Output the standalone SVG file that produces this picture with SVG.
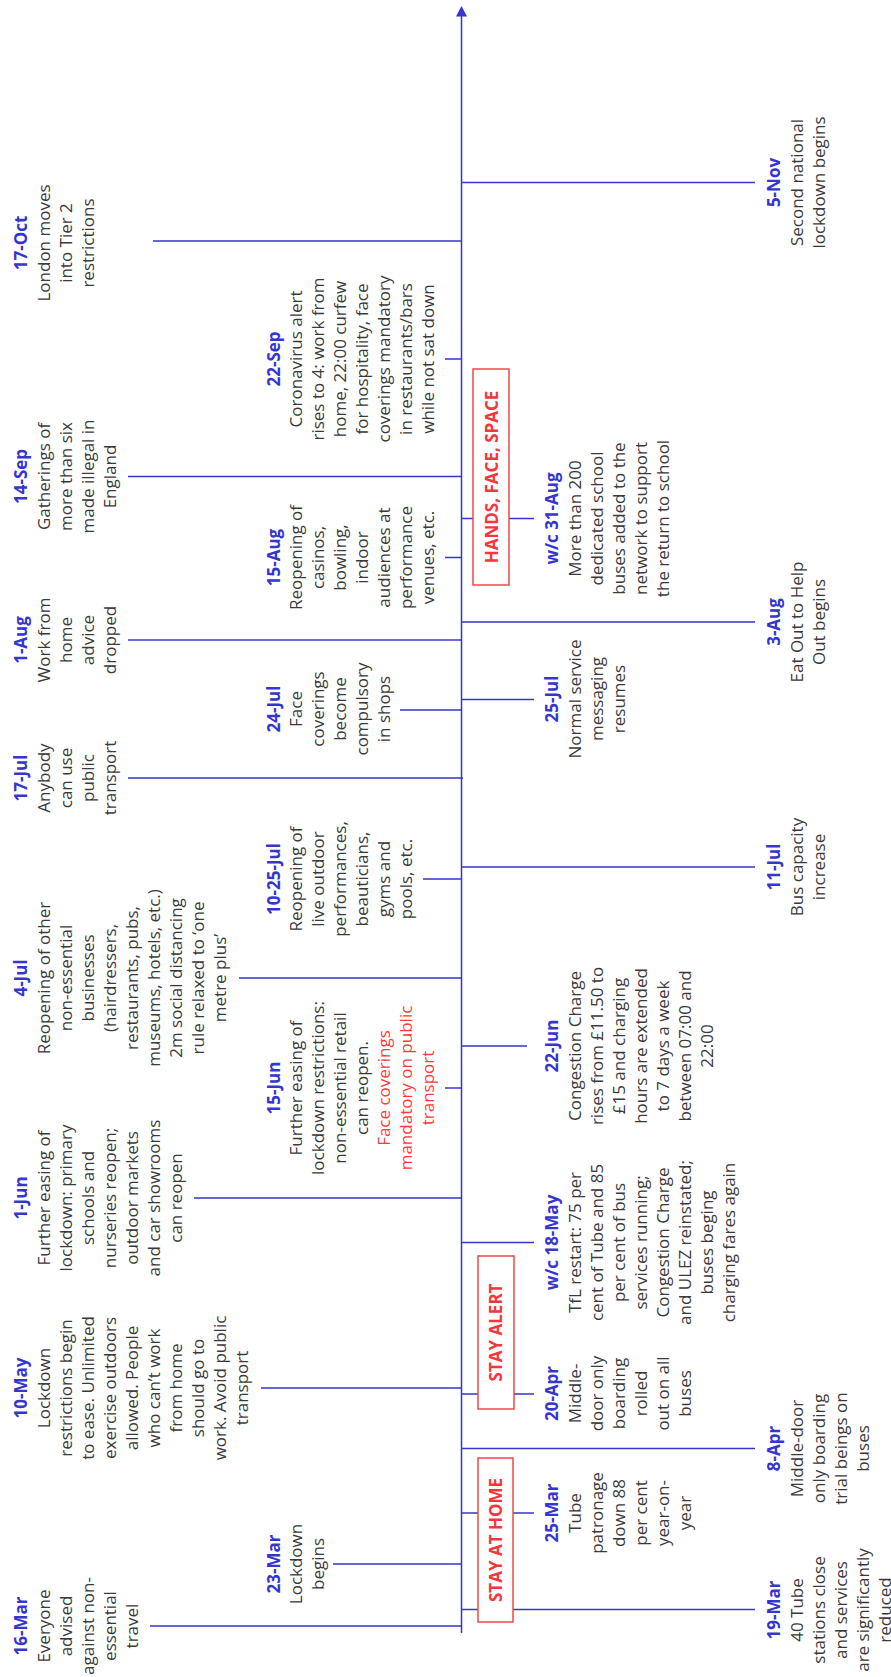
<svg xmlns="http://www.w3.org/2000/svg" width="891" height="1677" viewBox="0 0 891 1677">
<style>
.t{font-family:"Open Sans","Liberation Sans",sans-serif;font-size:17px;fill:#3a3a3a;text-anchor:middle}
.d{font-weight:bold;fill:#3535cf}
.r{fill:#ff3a3a}
.box{fill:#fff;stroke:#f5464b;stroke-width:1.5}
.bt{font-family:"Open Sans","Liberation Sans",sans-serif;font-weight:bold;font-size:17px;fill:#f5363c;text-anchor:middle}
.ln{stroke:#3535cf;stroke-width:1.5;fill:none}
</style>
<rect width="891" height="1677" fill="#fff"/>
<g id="connectors">
<line class="ln" x1="461.5" y1="14" x2="461.5" y2="1633" stroke-width="1.8"/>
<polygon points="461.5,6 456,16.5 467,16.5" fill="#3535cf"/>
<line class="ln" x1="153" y1="241" x2="461.5" y2="241"/>
<line class="ln" x1="128" y1="476.5" x2="461.5" y2="476.5"/>
<line class="ln" x1="128" y1="640" x2="461.5" y2="640"/>
<line class="ln" x1="128" y1="778" x2="463" y2="778"/>
<line class="ln" x1="239" y1="978" x2="461.5" y2="978"/>
<line class="ln" x1="194" y1="1198" x2="461.5" y2="1198"/>
<line class="ln" x1="261" y1="1388" x2="461.5" y2="1388"/>
<line class="ln" x1="333" y1="1564" x2="461.5" y2="1564"/>
<line class="ln" x1="150" y1="1626" x2="461.5" y2="1626"/>
<line class="ln" x1="445" y1="359" x2="461.5" y2="359"/>
<line class="ln" x1="445" y1="557.5" x2="461.5" y2="557.5"/>
<line class="ln" x1="400" y1="710" x2="461.5" y2="710"/>
<line class="ln" x1="423" y1="879" x2="461.5" y2="879"/>
<line class="ln" x1="445" y1="1088" x2="461.5" y2="1088"/>
<line class="ln" x1="461.5" y1="518.5" x2="534" y2="518.5"/>
<line class="ln" x1="461.5" y1="699.5" x2="534" y2="699.5"/>
<line class="ln" x1="461.5" y1="1046" x2="527" y2="1046"/>
<line class="ln" x1="461.5" y1="1242.5" x2="534" y2="1242.5"/>
<line class="ln" x1="461.5" y1="1394" x2="534" y2="1394"/>
<line class="ln" x1="461.5" y1="1513" x2="534" y2="1513"/>
<line class="ln" x1="461.5" y1="182.5" x2="755" y2="182.5"/>
<line class="ln" x1="461.5" y1="622" x2="755" y2="622"/>
<line class="ln" x1="461.5" y1="867" x2="755" y2="867"/>
<line class="ln" x1="461.5" y1="1448.5" x2="755" y2="1448.5"/>
<line class="ln" x1="461.5" y1="1609.5" x2="755" y2="1609.5"/>
</g>
<g id="phase-hands"><rect class="box" x="473" y="369" width="36" height="216"/><text class="bt" transform="translate(497.5,477) rotate(-90)">HANDS, FACE, SPACE</text></g>
<g id="phase-alert"><rect class="box" x="478" y="1256" width="36" height="153"/><text class="bt" transform="translate(502,1332.5) rotate(-90)">STAY ALERT</text></g>
<g id="phase-home"><rect class="box" x="478" y="1458" width="35" height="164"/><text class="bt" transform="translate(502,1540) rotate(-90)">STAY AT HOME</text></g>

<g id="e-17oct"><text class="t" transform="translate(27,243) rotate(-90)"><tspan class="d" x="0" y="0">17-Oct</tspan><tspan x="0" dy="23">London moves</tspan><tspan x="0" dy="22">into Tier 2</tspan><tspan x="0" dy="22">restrictions</tspan></text></g>
<g id="e-14sep"><text class="t" transform="translate(27,476.5) rotate(-90)"><tspan class="d" x="0" y="0">14-Sep</tspan><tspan x="0" dy="23">Gatherings of</tspan><tspan x="0" dy="22">more than six</tspan><tspan x="0" dy="22">made illegal in</tspan><tspan x="0" dy="22">England</tspan></text></g>
<g id="e-1aug"><text class="t" transform="translate(27,640) rotate(-90)"><tspan class="d" x="0" y="0">1-Aug</tspan><tspan x="0" dy="23">Work from</tspan><tspan x="0" dy="22">home</tspan><tspan x="0" dy="22">advice</tspan><tspan x="0" dy="22">dropped</tspan></text></g>
<g id="e-17jul"><text class="t" transform="translate(27,778) rotate(-90)"><tspan class="d" x="0" y="0">17-Jul</tspan><tspan x="0" dy="23">Anybody</tspan><tspan x="0" dy="22">can use</tspan><tspan x="0" dy="22">public</tspan><tspan x="0" dy="22">transport</tspan></text></g>
<g id="e-4jul"><text class="t" transform="translate(27,978) rotate(-90)"><tspan class="d" x="0" y="0">4-Jul</tspan><tspan x="0" dy="23">Reopening of other</tspan><tspan x="0" dy="22">non-essential</tspan><tspan x="0" dy="22">businesses</tspan><tspan x="0" dy="22">(hairdressers,</tspan><tspan x="0" dy="22">restaurants, pubs,</tspan><tspan x="0" dy="22">museums, hotels, etc.)</tspan><tspan x="0" dy="22">2m social distancing</tspan><tspan x="0" dy="22">rule relaxed to ‘one</tspan><tspan x="0" dy="22">metre plus’</tspan></text></g>
<g id="e-1jun"><text class="t" transform="translate(27,1198) rotate(-90)"><tspan class="d" x="0" y="0">1-Jun</tspan><tspan x="0" dy="23">Further easing of</tspan><tspan x="0" dy="22">lockdown: primary</tspan><tspan x="0" dy="22">schools and</tspan><tspan x="0" dy="22">nurseries reopen;</tspan><tspan x="0" dy="22">outdoor markets</tspan><tspan x="0" dy="22">and car showrooms</tspan><tspan x="0" dy="22">can reopen</tspan></text></g>
<g id="e-10may"><text class="t" transform="translate(27,1388) rotate(-90)"><tspan class="d" x="0" y="0">10-May</tspan><tspan x="0" dy="23">Lockdown</tspan><tspan x="0" dy="22">restrictions begin</tspan><tspan x="0" dy="22">to ease. Unlimited</tspan><tspan x="0" dy="22">exercise outdoors</tspan><tspan x="0" dy="22">allowed. People</tspan><tspan x="0" dy="22">who can’t work</tspan><tspan x="0" dy="22">from home</tspan><tspan x="0" dy="22">should go to</tspan><tspan x="0" dy="22">work. Avoid public</tspan><tspan x="0" dy="22">transport</tspan></text></g>
<g id="e-16mar"><text class="t" transform="translate(27,1626) rotate(-90)"><tspan class="d" x="0" y="0">16-Mar</tspan><tspan x="0" dy="23">Everyone</tspan><tspan x="0" dy="22">advised</tspan><tspan x="0" dy="22">against non-</tspan><tspan x="0" dy="22">essential</tspan><tspan x="0" dy="22">travel</tspan></text></g>

<g id="e-22sep"><text class="t" transform="translate(280,359) rotate(-90)"><tspan class="d" x="0" y="0">22-Sep</tspan><tspan x="0" dy="22">Coronavirus alert</tspan><tspan x="0" dy="22">rises to 4: work from</tspan><tspan x="0" dy="22">home, 22:00 curfew</tspan><tspan x="0" dy="22">for hospitality, face</tspan><tspan x="0" dy="22">coverings mandatory</tspan><tspan x="0" dy="22">in restaurants/bars</tspan><tspan x="0" dy="22">while not sat down</tspan></text></g>
<g id="e-15aug"><text class="t" transform="translate(280,557.5) rotate(-90)"><tspan class="d" x="0" y="0">15-Aug</tspan><tspan x="0" dy="22">Reopening of</tspan><tspan x="0" dy="22">casinos,</tspan><tspan x="0" dy="22">bowling,</tspan><tspan x="0" dy="22">indoor</tspan><tspan x="0" dy="22">audiences at</tspan><tspan x="0" dy="22">performance</tspan><tspan x="0" dy="22">venues, etc.</tspan></text></g>
<g id="e-24jul"><text class="t" transform="translate(280,709) rotate(-90)"><tspan class="d" x="0" y="0">24-Jul</tspan><tspan x="0" dy="22">Face</tspan><tspan x="0" dy="22">coverings</tspan><tspan x="0" dy="22">become</tspan><tspan x="0" dy="22">compulsory</tspan><tspan x="0" dy="22">in shops</tspan></text></g>
<g id="e-1025jul"><text class="t" transform="translate(280,879) rotate(-90)"><tspan class="d" x="0" y="0">10-25-Jul</tspan><tspan x="0" dy="22">Reopening of</tspan><tspan x="0" dy="22">live outdoor</tspan><tspan x="0" dy="22">performances,</tspan><tspan x="0" dy="22">beauticians,</tspan><tspan x="0" dy="22">gyms and</tspan><tspan x="0" dy="22">pools, etc.</tspan></text></g>
<g id="e-15jun"><text class="t" transform="translate(280,1088) rotate(-90)"><tspan class="d" x="0" y="0">15-Jun</tspan><tspan x="0" dy="22">Further easing of</tspan><tspan x="0" dy="22">lockdown restrictions:</tspan><tspan x="0" dy="22">non-essential retail</tspan><tspan x="0" dy="22">can reopen.</tspan><tspan class="r" x="0" dy="22">Face coverings</tspan><tspan class="r" x="0" dy="22">mandatory on public</tspan><tspan class="r" x="0" dy="22">transport</tspan></text></g>
<g id="e-23mar"><text class="t" transform="translate(280,1564) rotate(-90)"><tspan class="d" x="0" y="0">23-Mar</tspan><tspan x="0" dy="22">Lockdown</tspan><tspan x="0" dy="22">begins</tspan></text></g>

<g id="e-31aug"><text class="t" transform="translate(558,518.5) rotate(-90)"><tspan class="d" x="0" y="0">w/c 31-Aug</tspan><tspan x="0" dy="23">More than 200</tspan><tspan x="0" dy="22">dedicated school</tspan><tspan x="0" dy="22">buses added to the</tspan><tspan x="0" dy="22">network to support</tspan><tspan x="0" dy="22">the return to school</tspan></text></g>
<g id="e-25jul"><text class="t" transform="translate(558,699) rotate(-90)"><tspan class="d" x="0" y="0">25-Jul</tspan><tspan x="0" dy="23">Normal service</tspan><tspan x="0" dy="22">messaging</tspan><tspan x="0" dy="22">resumes</tspan></text></g>
<g id="e-22jun"><text class="t" transform="translate(558,1046) rotate(-90)"><tspan class="d" x="0" y="0">22-Jun</tspan><tspan x="0" dy="23">Congestion Charge</tspan><tspan x="0" dy="22">rises from £11.50 to</tspan><tspan x="0" dy="22">£15 and charging</tspan><tspan x="0" dy="22">hours are extended</tspan><tspan x="0" dy="22">to 7 days a week</tspan><tspan x="0" dy="22">between 07:00 and</tspan><tspan x="0" dy="22">22:00</tspan></text></g>
<g id="e-18may"><text class="t" transform="translate(558,1242.5) rotate(-90)"><tspan class="d" x="0" y="0">w/c 18-May</tspan><tspan x="0" dy="23">TfL restart: 75 per</tspan><tspan x="0" dy="22">cent of Tube and 85</tspan><tspan x="0" dy="22">per cent of bus</tspan><tspan x="0" dy="22">services running;</tspan><tspan x="0" dy="22">Congestion Charge</tspan><tspan x="0" dy="22">and ULEZ reinstated;</tspan><tspan x="0" dy="22">buses beging</tspan><tspan x="0" dy="22">charging fares again</tspan></text></g>
<g id="e-20apr"><text class="t" transform="translate(558,1393.5) rotate(-90)"><tspan class="d" x="0" y="0">20-Apr</tspan><tspan x="0" dy="23">Middle-</tspan><tspan x="0" dy="22">door only</tspan><tspan x="0" dy="22">boarding</tspan><tspan x="0" dy="22">rolled</tspan><tspan x="0" dy="22">out on all</tspan><tspan x="0" dy="22">buses</tspan></text></g>
<g id="e-25mar"><text class="t" transform="translate(558,1513) rotate(-90)"><tspan class="d" x="0" y="0">25-Mar</tspan><tspan x="0" dy="23">Tube</tspan><tspan x="0" dy="22">patronage</tspan><tspan x="0" dy="22">down 88</tspan><tspan x="0" dy="22">per cent</tspan><tspan x="0" dy="22">year-on-</tspan><tspan x="0" dy="22">year</tspan></text></g>

<g id="e-5nov"><text class="t" transform="translate(780,182.5) rotate(-90)"><tspan class="d" x="0" y="0">5-Nov</tspan><tspan x="0" dy="23">Second national</tspan><tspan x="0" dy="22">lockdown begins</tspan></text></g>
<g id="e-3aug"><text class="t" transform="translate(780,622) rotate(-90)"><tspan class="d" x="0" y="0">3-Aug</tspan><tspan x="0" dy="23">Eat Out to Help</tspan><tspan x="0" dy="22">Out begins</tspan></text></g>
<g id="e-11jul"><text class="t" transform="translate(780,867) rotate(-90)"><tspan class="d" x="0" y="0">11-Jul</tspan><tspan x="0" dy="23">Bus capacity</tspan><tspan x="0" dy="22">increase</tspan></text></g>
<g id="e-8apr"><text class="t" transform="translate(780,1448.5) rotate(-90)"><tspan class="d" x="0" y="0">8-Apr</tspan><tspan x="0" dy="23">Middle-door</tspan><tspan x="0" dy="22">only boarding</tspan><tspan x="0" dy="22">trial beings on</tspan><tspan x="0" dy="22">buses</tspan></text></g>
<g id="e-19mar"><text class="t" transform="translate(780,1610) rotate(-90)"><tspan class="d" x="0" y="0">19-Mar</tspan><tspan x="0" dy="23">40 Tube</tspan><tspan x="0" dy="22">stations close</tspan><tspan x="0" dy="22">and services</tspan><tspan x="0" dy="22">are significantly</tspan><tspan x="0" dy="22">reduced</tspan></text></g>
</svg>
